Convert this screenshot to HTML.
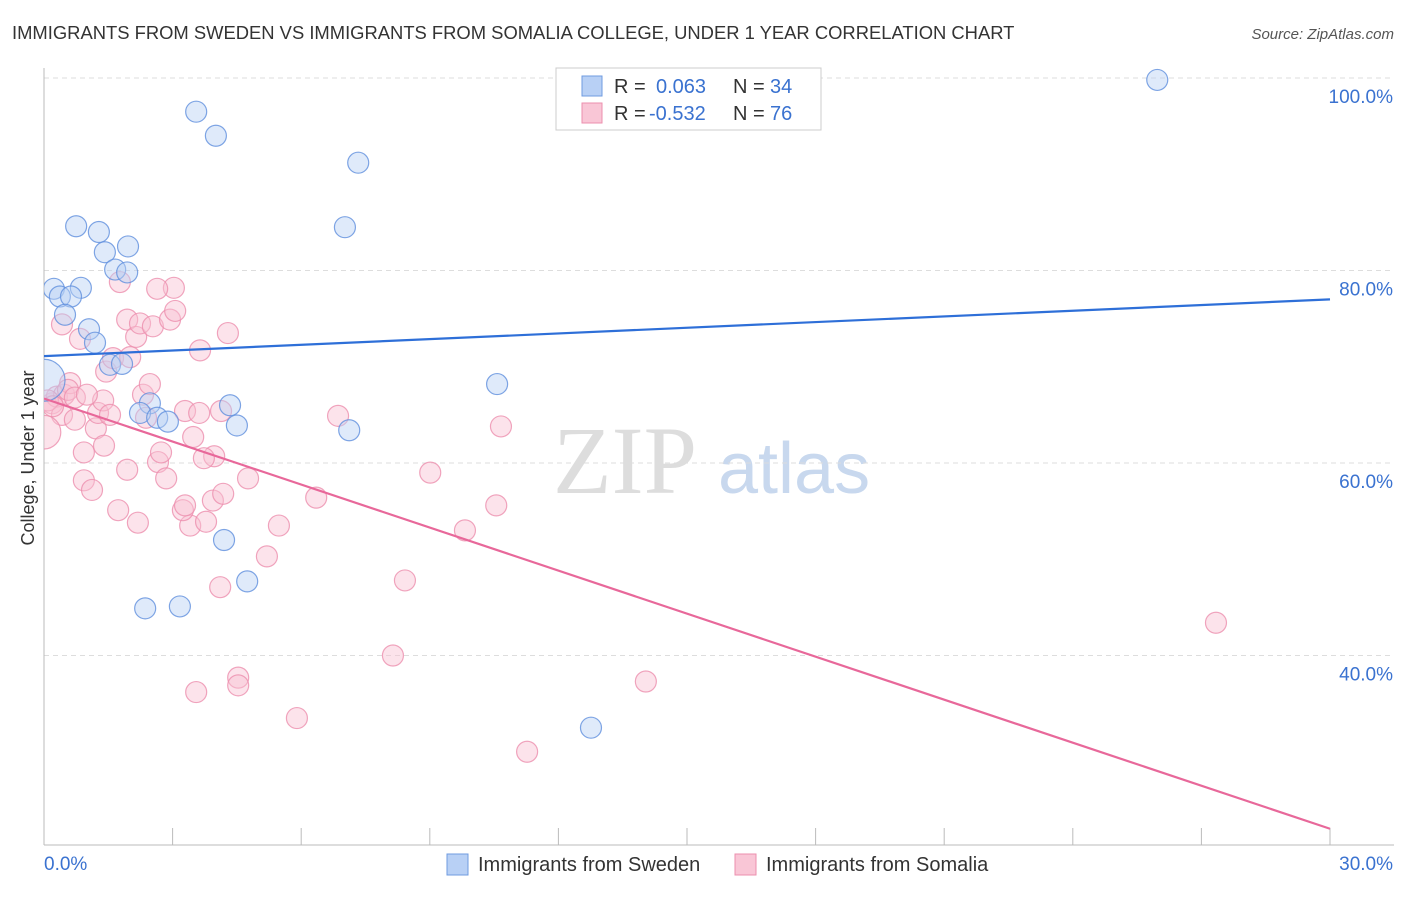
<!DOCTYPE html>
<html><head><meta charset="utf-8"><style>
body{margin:0;background:#fff;font-family:"Liberation Sans",sans-serif}
</style></head><body>
<svg width="1406" height="892" viewBox="0 0 1406 892" xmlns="http://www.w3.org/2000/svg">
<defs><clipPath id="plotclip"><rect x="44" y="60" width="1360" height="785"/></clipPath></defs>
<text x="12" y="39" font-size="18.4" fill="#333">IMMIGRANTS FROM SWEDEN VS IMMIGRANTS FROM SOMALIA COLLEGE, UNDER 1 YEAR CORRELATION CHART</text>
<text x="1394" y="39" font-size="15" fill="#555" font-style="italic" text-anchor="end">Source: ZipAtlas.com</text>
<g>
<text x="553" y="493" font-size="96" font-family="Liberation Serif,serif" fill="#ddd">ZIP</text>
<text x="718" y="493" font-size="72" fill="#c8d8ee">atlas</text>
</g>
<g id="grid"></g>
<g id="axes"></g>
<g id="marks" clip-path="url(#plotclip)"></g>
<g>
<rect x="556" y="68" width="265" height="62" fill="#fff" stroke="#ccc"/>
<rect x="582" y="76" width="20" height="20" fill="#b8d0f5" stroke="#6f9be0"/>
<rect x="582" y="103" width="20" height="20" fill="#f9c6d6" stroke="#ec8fae"/>
<text x="614" y="93" font-size="20" fill="#333">R =</text>
<text x="656" y="93" font-size="20" fill="#3a72d0">0.063</text>
<text x="733" y="93" font-size="20" fill="#333">N =</text>
<text x="770" y="93" font-size="20" fill="#3a72d0">34</text>
<text x="614" y="120" font-size="20" fill="#333">R =</text>
<text x="649" y="120" font-size="20" fill="#3a72d0">-0.532</text>
<text x="733" y="120" font-size="20" fill="#333">N =</text>
<text x="770" y="120" font-size="20" fill="#3a72d0">76</text>
</g>
<g>
<rect x="447" y="854" width="21" height="21" fill="#b8d0f5" stroke="#6f9be0"/>
<text x="478" y="871" font-size="20" fill="#333">Immigrants from Sweden</text>
<rect x="735" y="854" width="21" height="21" fill="#f9c6d6" stroke="#ec8fae"/>
<text x="766" y="871" font-size="20" fill="#333">Immigrants from Somalia</text>
</g>
<text transform="translate(34,458) rotate(-90)" font-size="18" fill="#333" text-anchor="middle">College, Under 1 year</text>
</svg>
<script>
const swedenX=[25.97,3.55,4.01,7.33,7.02,0.75,1.28,1.96,1.42,1.66,1.94,0.23,0.86,0.37,0.63,0.49,1.05,1.19,1.54,1.82,0,10.57,2.47,4.34,2.24,2.64,2.89,4.50,7.12,4.20,4.74,2.36,3.17,12.76];
const swedenY=[99.8,96.5,94.0,91.2,84.5,84.6,84.0,82.5,81.9,80.1,79.8,78.1,78.2,77.3,77.3,75.4,73.9,72.5,70.2,70.3,68.6,68.2,66.2,66.0,65.2,64.7,64.3,63.9,63.4,52.0,47.7,44.9,45.1,32.5];
const swedenSize=[1,1,1,1,1,1,1,1,1,1,1,1,1,1,1,1,1,1,1,1,2,1,1,1,1,1,1,1,1,1,1,1,1,1];
const somaliaX=[0.19,0.30,0.47,0.61,0.56,0.72,0.42,0.72,0.84,0.42,0.93,1.12,0.93,1.21,1.26,1.38,1.00,1.40,1.45,1.61,1.73,1.77,1.94,1.94,2.01,2.15,2.19,2.24,2.31,2.47,2.38,2.54,2.66,2.73,2.85,2.94,3.06,3.03,2.64,3.29,3.62,3.41,3.24,3.29,3.48,3.64,3.78,3.94,3.97,3.73,4.13,4.18,4.29,4.76,5.20,5.48,6.35,6.86,8.42,9.01,9.82,10.55,10.66,8.14,4.53,4.53,3.55,5.90,14.04,11.27,27.34,4.11,0,0.09,0.21,1.54];
const somaliaY=[66.2,66.9,67.1,68.3,67.6,66.8,65.0,64.5,72.9,74.4,58.2,57.2,61.1,63.6,65.2,66.5,67.1,61.8,69.5,70.9,55.1,78.8,74.9,59.3,71.0,73.1,53.8,74.5,67.1,68.2,64.7,74.2,60.1,61.1,58.4,74.9,75.8,78.2,78.1,65.4,65.2,53.5,55.1,55.6,62.7,71.7,53.9,56.1,60.7,60.5,65.4,56.8,73.5,58.4,50.3,53.5,56.4,64.9,47.8,59.0,53.0,55.6,63.8,40.0,37.7,36.9,36.2,33.5,37.3,30.0,43.4,47.1,63.2,66.5,65.9,65.0];
const somaliaSize=somaliaX.map((_,i)=>i===72?1.6:1);
const swedenTrend=[71.1,77.0];
const somaliaTrend=[66.7,22.0];
const yTicks=[40,60,80,100];
const yTickLabels=["40.0%","60.0%","80.0%","100.0%"];
const xTicks=[0,3,6,9,12,15,18,21,24,27,30];
const xEndLabels=["0.0%","30.0%"];

const X0=44,X1=1330,XMAX=30;
const sx=v=>X0+(v/XMAX)*(X1-X0);
const sy=v=>78+(100-v)*9.625;
const NS="http://www.w3.org/2000/svg";
function mk(tag,attrs,parent){const e=document.createElementNS(NS,tag);for(const k in attrs)e.setAttribute(k,attrs[k]);parent.appendChild(e);return e;}
const grid=document.getElementById('grid'),axes=document.getElementById('axes'),marks=document.getElementById('marks');
yTicks.forEach((t,i)=>{
 const l=mk('line',{x1:X0,x2:1394,y1:sy(t),y2:sy(t),stroke:'#ddd','stroke-dasharray':'5,4'},grid);
 
 
 const tx=mk('text',{x:1393,y:sy(t)+25,'font-size':19,fill:'#3a72d0','text-anchor':'end'},axes);
 tx.textContent=yTickLabels[i];
 
 
});
const ya=mk('line',{x1:X0,x2:X0,y1:68,y2:845,stroke:'#bbb'},axes);


const xa=mk('line',{x1:X0,x2:1394,y1:845,y2:845,stroke:'#bbb'},axes);


xTicks.forEach(t=>{
 const l=mk('line',{x1:sx(t),x2:sx(t),y1:828,y2:845,stroke:'#bbb'},axes);
 
 
});
const xl0=mk('text',{x:44,y:870,'font-size':19,fill:'#3a72d0'},axes);xl0.textContent=xEndLabels[0];


const xl1=mk('text',{x:1393,y:870,'font-size':19,fill:'#3a72d0','text-anchor':'end'},axes);xl1.textContent=xEndLabels[1];


function pts(xs,ys,sz,fill,stroke,name){
 xs.forEach((x,i)=>{
  const c=mk('circle',{cx:sx(x),cy:sy(ys[i]),r:10.5*sz[i],fill:fill,'fill-opacity':0.45,stroke:stroke,'stroke-width':1.2,'stroke-opacity':0.8},marks);
  
  
 });
}
pts(somaliaX,somaliaY,somaliaSize,'#f9c0d2','#ec8fae','somalia-point');
pts(swedenX,swedenY,swedenSize,'#b8d0f5','#5f8fdd','sweden-point');
const bl=mk('line',{x1:sx(0),y1:sy(swedenTrend[0]),x2:sx(30),y2:sy(swedenTrend[1]),stroke:'#2e6fd8','stroke-width':2.2},marks);


const pl=mk('line',{x1:sx(0),y1:sy(somaliaTrend[0]),x2:sx(30),y2:sy(somaliaTrend[1]),stroke:'#e8689a','stroke-width':2.2},marks);


</script>
</body></html>
